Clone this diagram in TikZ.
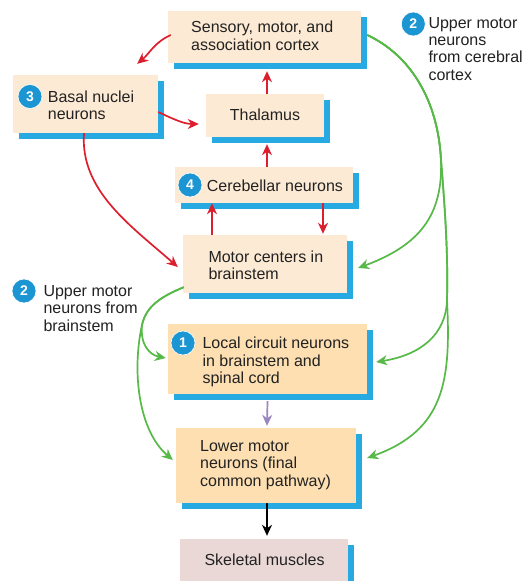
\documentclass[tikz,border=0pt]{standalone}
\usepackage{fontspec}
\setmainfont{Liberation Sans}
\usetikzlibrary{arrows.meta,shadows,calc}

\definecolor{peach}{HTML}{FDEAD4}
\definecolor{apricot}{HTML}{FDDFB2}
\definecolor{rosegrey}{HTML}{E9D8D6}
\definecolor{edgeblue}{HTML}{27AAE1}
\definecolor{badgeblue}{HTML}{1B96D3}
\definecolor{pathred}{HTML}{DC1F2E}
\definecolor{pathgreen}{HTML}{57B947}
\definecolor{pathpurple}{HTML}{9A86C2}
\definecolor{inkgrey}{HTML}{222222}

\tikzset{
  panel/.style={rectangle, draw=none, inner sep=0pt,
    drop shadow={shadow xshift=6pt, shadow yshift=-6pt, fill=edgeblue, opacity=1}},
  lightpanel/.style={panel, fill=peach},
  darkpanel/.style={panel, fill=apricot},
  pinkpanel/.style={panel, fill=rosegrey},
  label/.style={inner sep=0pt, align=left, text=inkgrey,
    font=\fontsize{16}{17.4}\selectfont},
  badge/.style={circle, fill=badgeblue, draw=white, line width=0.6pt,
    minimum size=24pt, inner sep=0pt, text=white,
    font=\fontsize{14}{14}\selectfont\bfseries},
  tip/.style={-{Stealth[length=11pt,width=10pt,inset=3.5pt]}, line width=1.7pt},
  redpath/.style={tip, draw=pathred},
  greenpath/.style={tip, draw=pathgreen},
  purplepath/.style={tip, draw=pathpurple},
  blackpath/.style={tip, draw=black},
}

\begin{document}
\begin{tikzpicture}[x=1pt, y=-1pt]
  \useasboundingbox[fill=white] (0,0) rectangle (528,581);

  % boxes
  \node[lightpanel, minimum width=193pt, minimum height=52pt] (cortex) at (264.5,37) {};
  \node[lightpanel, minimum width=145pt, minimum height=58pt] (basal) at (85.5,104) {};
  \node[lightpanel, minimum width=118pt, minimum height=43pt] (thal) at (265,115.5) {};
  \node[lightpanel, minimum width=178pt, minimum height=36pt] (cereb) at (264,185) {};
  \node[lightpanel, minimum width=164pt, minimum height=58pt] (motor) at (265,264) {};
  \node[darkpanel, minimum width=199pt, minimum height=70pt] (local) at (267.5,359) {};
  \node[darkpanel, minimum width=180pt, minimum height=75pt] (lower) at (266,465.5) {};
  \node[pinkpanel, minimum width=168pt, minimum height=51pt] (skel) at (264,564.5) {};

  % box texts
  \node[label, anchor=north west] (t-cortex) at (191,20.9) {Sensory, motor, and\\association cortex};
  \node[label, anchor=north west] (t-basal) at (47.7,90.3) {Basal nuclei\\neurons};
  \node[label, anchor=base] (t-thal) at (265,120) {Thalamus};
  \node[label, anchor=north west] (t-cereb) at (206.7,179.3) {Cerebellar neurons};
  \node[label, anchor=north west] (t-motor) at (208.3,250.3) {Motor centers in\\brainstem};
  \node[label, anchor=north west] (t-local) at (202.3,336.9) {Local circuit neurons\\in brainstem and\\spinal cord};
  \node[label, anchor=north west] (t-lower) at (200,440.3) {Lower motor\\neurons (final\\common pathway)};
  \node[label, anchor=base west] (t-skel) at (204.3,565) {Skeletal muscles};

  % side labels
  \node[label, anchor=north west] (t-upper-cx) at (428.3,16.9) {Upper motor\\neurons\\from cerebral\\cortex};
  \node[label, anchor=north west] (t-upper-bs) at (43.3,285.3) {Upper motor\\neurons from\\brainstem};

  % red loops
  \draw[redpath] ($(cortex.west)+(3,-2)$) .. controls +(-16,7) and +(12,-10) .. ($(basal.north east)+(-21,-11)$);
  \draw[redpath] ($(thal.north)+(2,0)$) -- ($(cortex.south)+(2.5,8)$);
  \draw[redpath] ($(basal.east)+(0,8)$) .. controls +(15,7) and +(-15,0) .. ($(thal.west)+(-7,8.5)$);
  \draw[redpath] ($(cereb.north)+(3,0)$) -- ($(thal.south)+(2,7)$);
  \draw[redpath] ($(basal.south)+(-1.5,0)$) .. controls +(-4,57) and +(-48,-42) .. ($(motor.west)+(-5,3)$);
  \draw[redpath] ($(motor.north)+(-53,0)$) -- ($(cereb.south)+(-52,0)$);
  \draw[redpath] ($(cereb.south)+(59,0)$) -- ($(motor.north)+(58,-1)$);

  % green descending pathways
  \coordinate (gj1) at (441,160);
  \coordinate (gj2) at (447,300);
  \coordinate (gj3) at (142,325);
  \draw[greenpath] ($(cortex.east)+(6,-2)$) .. controls +(43,20) and +(-3,-60) .. (gj1)
    .. controls +(2,55) and +(62,-23) .. ($(motor.east)+(11,4)$);
  \draw[greenpath] ($(cortex.east)+(6,-2)$) .. controls +(43,20) and +(-3,-60) .. (gj1)
    .. controls +(5,60) and +(1,-40) .. (gj2)
    .. controls +(-1,35) and +(44,-7) .. ($(local.east)+(9,3)$);
  \draw[greenpath] ($(cortex.east)+(6,-2)$) .. controls +(43,20) and +(-3,-60) .. (gj1)
    .. controls +(5,60) and +(1,-40) .. (gj2)
    .. controls +(4,80) and +(78,-28) .. ($(lower.east)+(11,-7.5)$);
  \draw[greenpath] ($(motor.south west)+(1,-6)$) .. controls +(-22,9) and +(4,-19) .. (gj3)
    .. controls +(-2,20) and +(-16,-3) .. ($(local.west)+(-2,-1)$);
  \draw[greenpath] ($(motor.south west)+(1,-6)$) .. controls +(-22,9) and +(4,-19) .. (gj3)
    .. controls +(-10,45) and +(-35,-30) .. ($(lower.west)+(-3,-5.5)$);

  % final common path
  \draw[purplepath] ($(local.south)+(0,7)$) -- ($(lower.north)+(1,-2)$);
  \draw[blackpath] ($(lower.south)+(1,0)$) -- ($(skel.north)+(3,-3)$);

  % numbered badges
  \node[badge] (b-cx) at (413.3,24) {2};
  \node[badge] (b-bs) at (24,291) {2};
  \node[badge] (b-basal) at (30,96.5) {3};
  \node[badge] (b-cereb) at (190,185) {4};
  \node[badge] (b-local) at (183,343) {1};
\end{tikzpicture}
\end{document}
